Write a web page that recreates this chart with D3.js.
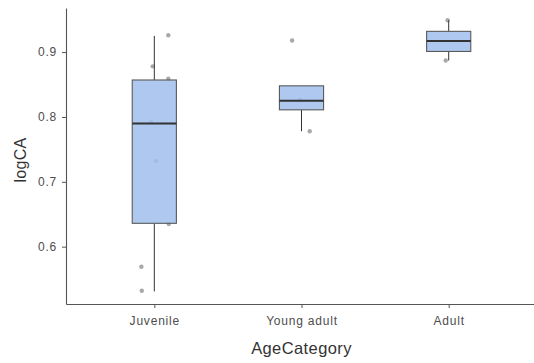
<!DOCTYPE html>
<html>
<head>
<meta charset="utf-8">
<script src="https://cdn.jsdelivr.net/npm/d3@7"></script>
<style>
  body { margin: 0; background: #fff; }
  svg { display: block; }
</style>
</head>
<body>
<script>
// categories and box statistics
var categories = ["Juvenile", "Young adult", "Adult"];
var q1 = [0.636, 0.811, 0.901];
var medians = [0.790, 0.825, 0.917];
var q3 = [0.857, 0.848, 0.932];
var whiskerLow = [0.531, 0.778, 0.887];
var whiskerHigh = [0.925, 0.848, 0.949];

// jittered raw points: category, value, jitter offset (in category units)
var pointGroup = ["Juvenile", "Juvenile", "Juvenile", "Juvenile", "Juvenile", "Juvenile", "Juvenile", "Juvenile",
                  "Young adult", "Young adult", "Young adult",
                  "Adult", "Adult"];
var pointValue = [0.926, 0.878, 0.859, 0.792, 0.732, 0.635, 0.569, 0.532,
                  0.918, 0.778, 0.826,
                  0.949, 0.887];
var pointJitter = [0.095, -0.011, 0.095, -0.022, 0.010, 0.098, -0.088, -0.085,
                   -0.064, 0.056, -0.012,
                   -0.007, -0.020];

var yTicks = [0.6, 0.7, 0.8, 0.9];

var width = 534, height = 363;
var margin = {top: 8, right: -3, bottom: 59, left: 66};
var innerW = width - margin.left - margin.right;
var innerH = height - margin.top - margin.bottom;
var font = "'Liberation Sans', Arial, sans-serif";

var svg = d3.select("body").append("svg")
    .attr("width", width)
    .attr("height", height);

var g = svg.append("g")
    .attr("transform", "translate(" + margin.left + "," + margin.top + ")");

// ggplot style discrete axis: positions 1..n, expanded by 0.6 each side
var x = d3.scaleLinear()
    .domain([0.4, categories.length + 0.6])
    .range([0, innerW]);
function xPos(cat) { return x(categories.indexOf(cat) + 1); }

var y = d3.scaleLinear()
    .domain([0.5116, 0.968])
    .range([innerH, 0]);

var boxHalf = (x(1.15) - x(1));

// points first so the box fill covers them
g.append("g").selectAll("circle")
    .data(pointValue)
    .enter().append("circle")
    .attr("cx", function(d, i) { return x(categories.indexOf(pointGroup[i]) + 1 + pointJitter[i]); })
    .attr("cy", function(d) { return y(d); })
    .attr("r", 2.2)
    .style("fill", "#9a9a9a")
    .style("opacity", 0.85);

var boxes = g.append("g").selectAll("g")
    .data(categories)
    .enter().append("g");

// whiskers
boxes.append("line")
    .attr("x1", function(d) { return xPos(d); })
    .attr("x2", function(d) { return xPos(d); })
    .attr("y1", function(d, i) { return y(whiskerHigh[i]); })
    .attr("y2", function(d, i) { return y(q3[i]); })
    .style("stroke", "#333")
    .style("stroke-width", 1);
boxes.append("line")
    .attr("x1", function(d) { return xPos(d); })
    .attr("x2", function(d) { return xPos(d); })
    .attr("y1", function(d, i) { return y(q1[i]); })
    .attr("y2", function(d, i) { return y(whiskerLow[i]); })
    .style("stroke", "#333")
    .style("stroke-width", 1);

// box
boxes.append("rect")
    .attr("x", function(d) { return xPos(d) - boxHalf; })
    .attr("width", boxHalf * 2)
    .attr("y", function(d, i) { return y(q3[i]); })
    .attr("height", function(d, i) { return y(q1[i]) - y(q3[i]); })
    .style("fill", "rgb(160,190,237)")
    .style("fill-opacity", 0.85)
    .style("stroke", "#5a5a5a")
    .style("stroke-width", 1.1);

// median
boxes.append("line")
    .attr("x1", function(d) { return xPos(d) - boxHalf; })
    .attr("x2", function(d) { return xPos(d) + boxHalf; })
    .attr("y1", function(d, i) { return y(medians[i]); })
    .attr("y2", function(d, i) { return y(medians[i]); })
    .style("stroke", "#333")
    .style("stroke-width", 2);

// axes
var xAxis = g.append("g")
    .attr("transform", "translate(0," + innerH + ")")
    .call(d3.axisBottom(x).tickValues(d3.range(1, categories.length + 1))
        .tickFormat(function(d) { return categories[d - 1]; })
        .tickSizeInner(4).tickSizeOuter(0).tickPadding(8));

var yAxis = g.append("g")
    .call(d3.axisLeft(y).tickValues(yTicks)
        .tickFormat(d3.format(".1f"))
        .tickSizeInner(4).tickSizeOuter(0).tickPadding(5));

[xAxis, yAxis].forEach(function(a) {
    a.select(".domain").style("stroke", "#555").style("stroke-width", 1.1);
    a.selectAll(".tick line").style("stroke", "#555");
    a.selectAll(".tick text")
        .style("fill", "#4d4d4d")
        .style("font-family", font)
        .style("font-size", "12px")
        .style("letter-spacing", "0.8px");
});

// axis titles
svg.append("text")
    .attr("x", margin.left + innerW / 2)
    .attr("y", 354)
    .attr("text-anchor", "middle")
    .style("font-family", font)
    .style("font-size", "16.5px")
    .style("letter-spacing", "0.4px")
    .style("fill", "#333")
    .text("AgeCategory");

svg.append("text")
    .attr("transform", "translate(26," + (margin.top + innerH / 2 + 4) + ") rotate(-90)")
    .attr("text-anchor", "middle")
    .style("font-family", font)
    .style("font-size", "16px")
    .style("letter-spacing", "0.3px")
    .style("fill", "#333")
    .text("logCA");
</script>
</body>
</html>
